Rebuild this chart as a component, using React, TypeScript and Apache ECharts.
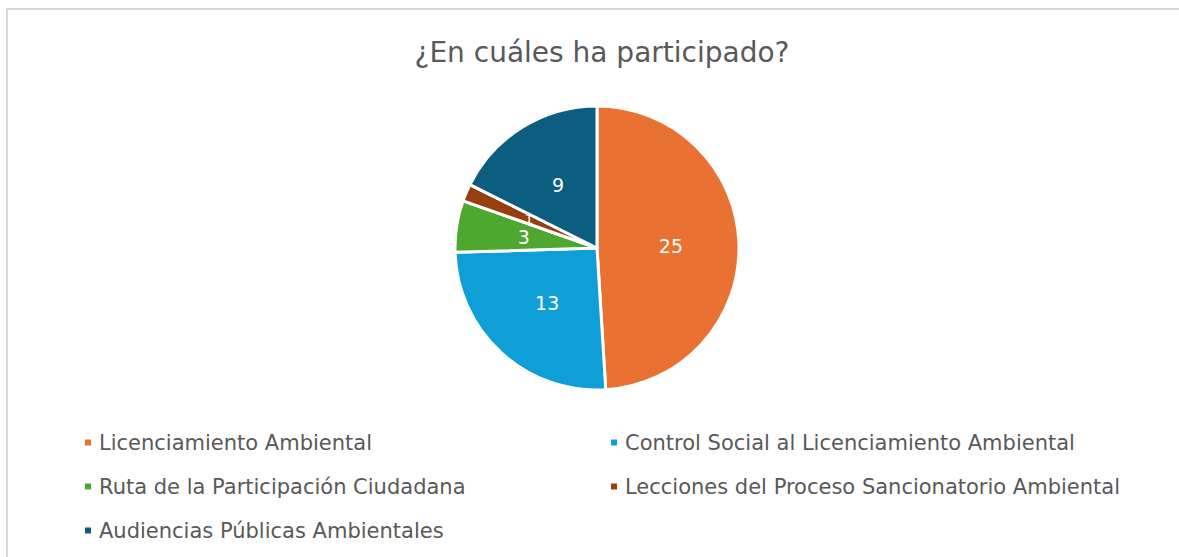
import React, { useEffect, useRef } from "react";
import * as echarts from "echarts";

const title = "¿En cuáles ha participado?";
const categories = [
  "Licenciamiento Ambiental",
  "Control Social al Licenciamiento Ambiental",
  "Ruta de la Participación Ciudadana",
  "Lecciones del Proceso Sancionatorio Ambiental",
  "Audiencias Públicas Ambientales",
];
const values = [25, 13, 3, 1, 9];
const colors = ["#E97132", "#0F9ED5", "#4EA72E", "#983F12", "#0B5E7F"];

const FONT = "'DejaVu Sans', sans-serif";

export default function App() {
  const ref = useRef<HTMLDivElement>(null);
  useEffect(() => {
    if (!ref.current) return;
    const chart = echarts.init(ref.current, undefined, { renderer: "svg" });
    chart.setOption({
      animation: false,
      backgroundColor: "#ffffff",
      title: {
        text: title,
        top: 33,
        left: 597,
        textAlign: "center",
        textStyle: { fontFamily: FONT, fontSize: 28, fontWeight: "normal", color: "#595959" },
      },
      graphic: [
        {
          type: "rect",
          shape: { x: 7, y: 9, width: 1300, height: 700 },
          style: { fill: "none", stroke: "#d9d9d9", lineWidth: 2 },
          silent: true,
        },
      ],
      legend: [
        {
          orient: "vertical",
          left: 78,
          top: 427,
          itemWidth: 8,
          itemHeight: 8,
          itemGap: 23,
          icon: "rect",
          data: [categories[0], categories[2], categories[4]],
          textStyle: { fontFamily: FONT, fontSize: 21, color: "#595959", padding: [0, 0, 0, 2] },
        },
        {
          orient: "vertical",
          left: 604,
          top: 427,
          itemWidth: 8,
          itemHeight: 8,
          itemGap: 23,
          icon: "rect",
          data: [categories[1], categories[3]],
          textStyle: { fontFamily: FONT, fontSize: 21, color: "#595959", padding: [0, 0, 0, 2] },
        },
      ],
      series: [
        {
          type: "pie",
          center: [597, 248],
          radius: [0, 142],
          startAngle: 90,
          clockwise: true,
          data: categories.map((name, i) => ({
            name,
            value: values[i],
            itemStyle: { color: colors[i] },
            label: values[i] < 2 ? { fontSize: 14, lineHeight: 14 } : undefined,
          })),
          itemStyle: { borderColor: "#ffffff", borderWidth: 3 },
          label: {
            show: true,
            position: "inner",
            formatter: "{c}",
            color: "#ffffff",
            fontFamily: FONT,
            fontSize: 19,
          },
          labelLayout: { hideOverlap: false },
          labelLine: { show: false },
          emphasis: { disabled: true },
        },
      ],
    });
    return () => chart.dispose();
  }, []);
  return (
    <div
      ref={ref}
      style={{ position: "absolute", left: 0, top: 0, width: 1179, height: 557 }}
    />
  );
}
